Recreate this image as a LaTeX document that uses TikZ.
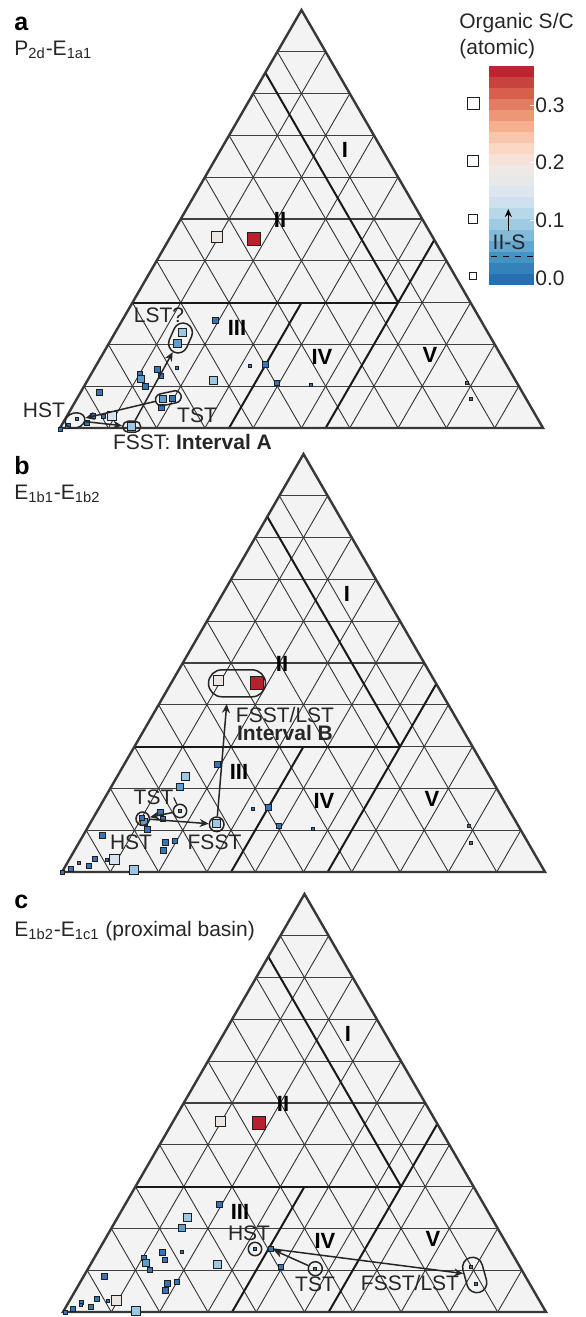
\documentclass[tikz,border=0pt]{standalone}
\usepackage{fontspec}
\setmainfont{Liberation Sans}
\usepackage{tikz}
\usetikzlibrary{shapes.misc}
\usetikzlibrary{shapes.geometric}
\usetikzlibrary{arrows.meta}

\definecolor{tribg}{HTML}{F3F3F3}
\definecolor{sblue}{HTML}{3674B6}
\definecolor{smid}{HTML}{5D9DD0}
\definecolor{slight}{HTML}{9CC8E4}
\definecolor{sgray}{HTML}{D6E3EE}
\definecolor{swhite}{HTML}{EDE6E1}
\definecolor{sred}{HTML}{B8202E}

% 三角図 #1,#2: 左下頂点, #3: 名前
\newcommand\ternpanel[3]{%
  \begin{scope}[shift={(#1,#2)}]
    \fill[tribg] (0,0) -- (483,0) -- (241.5,-418) -- cycle; %背景
    \foreach \i in {1,...,9}{
      \draw[gridh] ({\i*24.15},{-\i*41.8}) -- ({483-\i*24.15},{-\i*41.8}); %水平線
      \draw[gridd] ({\i*48.3},0) -- ({\i*24.15},{-\i*41.8}); %右辺に平行
      \draw[gridd] ({\i*48.3},0) -- ({\i*48.3+(10-\i)*24.15},{-(10-\i)*41.8}); %左辺に平行
    }
    \draw[bound] (72.45,-125.4) -- (338.1,-125.4); %IIIの上端
    \draw[bound] (205.3,-355.3) -- (338.1,-125.4); %I/II境界
    \draw[bound] (169.05,0) -- (241.5,-125.4); %III/IV境界
    \draw[bound] (265.65,0) -- (374.3,-188.1); %IV/V境界
    \draw[frame] (0,0) -- (483,0) -- (241.5,-418) -- cycle; %外枠
    \node[zone] (#3I) at (285,-278) {I};
    \node[zone] (#3II) at (220,-208) {II};
    \node[zone] (#3III) at (177,-100) {III};
    \node[zone] (#3IV) at (262,-71) {IV};
    \node[zone] (#3V) at (370,-73) {V};
  \end{scope}}

\begin{document}
\begin{tikzpicture}[x=0.5pt,y=-0.5pt,
    gridh/.style={line width=0.55pt,black!75},
    gridd/.style={line width=0.45pt,black!80},
    bound/.style={line width=1pt,black!90},
    frame/.style={line width=1.2pt,black!78},
    zone/.style={font=\bfseries\fontsize{11}{12}\selectfont,inner sep=0pt},
    lbl/.style={font=\fontsize{10.5}{12}\selectfont,text=black!85,inner sep=0pt},
    sq/.style={rectangle,draw=black!88,line width=0.5pt,inner sep=0pt,minimum size=#1pt},
    ring/.style={draw=black!85,line width=0.75pt,inner sep=0pt},
    arr/.style={line width=0.75pt,black!85,-{Stealth[length=4.5pt,width=4pt]}}]

  \useasboundingbox (0,0) rectangle (585,1317);

  % パネル
  \ternpanel{60}{428}{a}
  \ternpanel{62}{872}{b}
  \ternpanel{63}{1312}{c}

  % タイトル
  \node[font=\bfseries\fontsize{12.5}{14}\selectfont,anchor=west,inner sep=0pt] (pa) at (14,24) {a};
  \node[lbl,anchor=west] (ta) at (14,50) {P\textsubscript{2d}-E\textsubscript{1a1}};
  \node[font=\bfseries\fontsize{12.5}{14}\selectfont,anchor=west,inner sep=0pt] (pb) at (14,466) {b};
  \node[lbl,anchor=west] (tb) at (14,494) {E\textsubscript{1b1}-E\textsubscript{1b2}};
  \node[font=\bfseries\fontsize{12.5}{14}\selectfont,anchor=west,inner sep=0pt] (pc) at (14,902) {c};
  \node[lbl,anchor=west] (tc) at (14,931) {E\textsubscript{1b2}-E\textsubscript{1c1} (proximal basin)};

  % 凡例
  \node[lbl,anchor=west] (cbt1) at (459,23) {Organic S/C};
  \node[lbl,anchor=west] (cbt2) at (459,49) {(atomic)};
  \foreach \c [count=\k from 0] in {286FB1,3581BA,4393C3,63A7CE,82BBD9,9FCBE2,B8D8E9,CFE1EE,DDE6EE,E6E8EA,
                                   EEE9E6,F6E2D8,FBD7C4,F9C5AB,F6B090,EE9777,E27C62,D6604D,C8433F,B92632}{
    \definecolor{cbk}{HTML}{\c}
    \fill[cbk] (489,{285-(\k+1)*10.95}) rectangle (534,{285-\k*10.95}); %色の帯
  }
  \foreach \v/\t in {105/0.3,162.7/0.2,220.3/0.1,278/0.0}{
    \node[lbl,anchor=west] (tick\t) at (535,\v) {\t}; %目盛
  }
  \foreach \v in {105,162.7,220.3}{
    \draw[white,line width=0.5pt] (530,\v) -- (534,\v);
  }
  \draw[dashed,line width=0.5pt] (491,256) -- (534,256); %II-S 下限
  \node[lbl] (iis) at (509,242.5) {II-S};
  \coordinate (iisA) at (508.3,231);
  \coordinate (iisB) at (508.3,209);
  \draw[line width=0.75pt,-{Stealth[length=4pt,width=3.5pt]}] (iisA) -- (iisB);
  \foreach \y/\s [count=\k] in {103.3/6.3,161/5.5,219/4.5,276/3.5}{
    \node[sq=\s,fill=white] (leg\k) at (473.3,\y) {}; %大きさ
  }

  % a の試料
  \foreach \x/\y/\s/\c [count=\k] in {
    254.3/239/6.5/sred, 216.5/236.7/5.5/swhite,
    215/320/3/sblue, 182.3/332.7/4/slight, 177.7/343.3/3.8/smid,
    157.3/369/3/sblue, 176.7/368.3/1.6/sblue, 140/374.3/2.5/sblue,
    141.3/379.3/3.5/smid, 161/375.7/2.5/sblue, 145.3/386/3/sblue,
    213.3/380/4/slight, 99.3/392.3/3/sblue, 163/399.3/3.5/smid,
    172.3/398.3/3/sblue, 161/407/3/sblue, 112/416.3/4.5/sgray,
    93.3/415.7/2.5/sblue, 103.7/416.7/2/sblue, 86.7/422.7/2.5/sblue,
    76.7/419.3/1.6/sblue, 68.3/426/2.5/sblue, 60.7/429/2/sblue,
    131.7/426.7/4/slight, 250/366/1.6/sblue, 265.7/364.5/3/sblue,
    276.7/382.7/2.5/sblue, 311/385.3/1.6/sblue, 466.7/383/1.6/sblue,
    470.7/399.3/1.6/sblue}
    \node[sq=\s,fill=\c] (a\k) at (\x,\y) {};

  \node[ring,ellipse,minimum width=10pt,minimum height=7.5pt,rotate=15] (aHST) at (75,420.5) {};
  \node[ring,rounded rectangle,minimum width=13pt,minimum height=6pt,rotate=12] (aTST) at (168.3,398.3) {};
  \node[ring,rounded rectangle,minimum width=9pt,minimum height=5.5pt] (aFSST) at (131.7,426.7) {};
  \node[ring,rounded rectangle,minimum width=15.5pt,minimum height=9.5pt,rotate=66] (aLST) at (180.5,338) {};
  \draw[arr] (aTST) -- (aHST);
  \draw[arr] (aHST) -- (aFSST);
  \draw[arr] (aFSST) -- (aLST);
  \node[lbl] (aLSTl) at (159,315) {LST?};
  \node[lbl] (aHSTl) at (44,410) {HST};
  \node[lbl] (aTSTl) at (197,415) {TST};
  \node[lbl] (aint) at (192.5,441.5) {FSST: \textbf{Interval A}};

  % b の試料
  \foreach \x/\y/\s/\c [count=\k] in {
    257.3/682.5/6.5/sred, 218.5/680.7/5/swhite,
    185/776/4/slight, 180.3/786.7/3.5/smid, 217.7/764/3/sblue,
    160/812/3/sblue, 180/811/1.6/sblue, 163.3/818.7/2.5/sblue,
    144/822/3.5/smid, 142.3/818.3/2.5/sblue, 147.3/829.3/3/sblue,
    216/823.3/4/slight, 102/835.3/3/sblue, 165.7/842.7/3/sblue,
    175/841.3/2.5/sblue, 163.3/850.3/3/sblue, 114/859.3/5/sgray,
    106.7/860/1.6/sblue, 95.3/858.7/2.5/sblue, 79/863/1.8/sblue,
    89.3/866/2.5/sblue, 70.7/869.3/2.5/sblue, 62.7/872.7/2/sblue,
    134/870/4.5/slight, 252.7/809/1.6/sblue, 268.3/807.7/3/sblue,
    279/826/2.5/sblue, 313.3/828.7/1.6/sblue, 469/826/1.6/sblue,
    471/843/1.6/sblue}
    \node[sq=\s,fill=\c] (b\k) at (\x,\y) {};

  \node[ring,rounded rectangle,minimum width=28.5pt,minimum height=13.5pt] (bTOP) at (237,683.3) {};
  \node[ring,circle,minimum size=6.7pt] (bHST) at (142.7,818.7) {};
  \node[ring,circle,minimum size=6.7pt] (bTST) at (180,811) {};
  \node[ring,circle,minimum size=7.3pt] (bFSST) at (216.7,824.3) {};
  \coordinate (bTIP) at (226.7,704);
  \draw[arr] (bTST) -- (bHST);
  \draw[arr] (bHST) -- (bFSST);
  \draw[arr] (bFSST) -- (bTIP);
  \node[lbl] (bFLl) at (285,714.5) {FSST/LST};
  \node[lbl] (bint) at (285,732.5) {\textbf{Interval B}};
  \node[lbl] (bTSTl) at (153.5,797.5) {TST};
  \draw[line width=0.6pt,black!85] (bTSTl.east) -- (bTST);
  \node[lbl] (bHSTl) at (131,842.5) {HST};
  \node[lbl] (bFSSTl) at (214.5,842.5) {FSST};

  % c の試料
  \foreach \x/\y/\s/\c [count=\k] in {
    259/1123/6.5/sred, 220.3/1121/5/swhite,
    219.3/1204.3/3/sblue, 187/1217/4/slight, 182/1227.7/3.5/smid,
    181.7/1252/1.6/sblue, 217.7/1264.3/4/slight, 255/1249.3/1.6/sblue,
    281.3/1266.7/2.5/sblue, 315.3/1269.3/1.6/sblue,
    471/1267/1.6/sblue, 475.7/1284/1.6/sblue,
    162/1252.7/3/sblue, 165.3/1259.7/2.5/sblue, 144.3/1258.3/2.5/sblue,
    145.7/1263.3/3.5/smid, 150/1270/2.5/sblue, 104/1276.3/3/sblue,
    167.7/1283.7/3/sblue, 176.7/1282/2.5/sblue, 165.3/1290.7/3/sblue,
    108.3/1300.7/1.6/sblue, 97.3/1299.3/2.5/sblue, 81/1302.3/2/sblue,
    81/1305/1.8/sblue, 91/1306.7/2.5/sblue, 72.7/1309.3/2.5/sblue,
    65/1312.7/2/sblue, 116/1300/5/swhite, 135.7/1310.7/4.5/slight}
    \node[sq=\s,fill=\c] (c\k) at (\x,\y) {};
  \node[sq=2.5,fill=sblue] (cHp) at (270.7,1248.7) {};

  \node[ring,circle,minimum size=6.7pt] (cHST) at (255,1249) {};
  \node[ring,circle,minimum size=7pt] (cTST) at (315.3,1268.7) {};
  \node[ring,rounded rectangle,minimum width=18pt,minimum height=10pt,rotate=-74.5] (cFL) at (474.7,1275) {};
  \draw[arr] (cTST) -- (cHp);
  \draw[arr] (cHp) -- (cFL);
  \node[lbl] (cHSTl) at (249,1233) {HST};
  \node[lbl] (cTSTl) at (315,1284.3) {TST};
  \node[lbl] (cFLl) at (410,1282.5) {FSST/LST};

\end{tikzpicture}
\end{document}
